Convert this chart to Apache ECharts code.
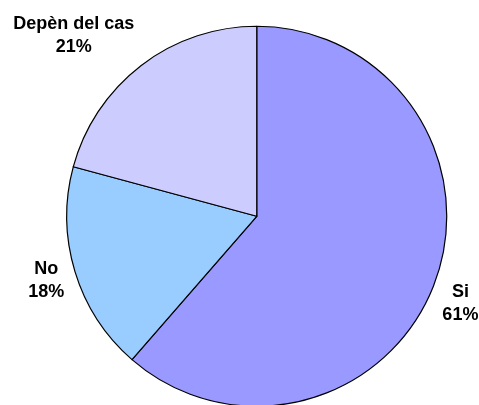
<!DOCTYPE html>
<html lang="ca">
<head>
    <meta charset="UTF-8">
    <title>Pie</title>
    <script src="https://cdn.jsdelivr.net/npm/echarts@6/dist/echarts.min.js"></script>
    <style>
        html, body { margin: 0; padding: 0; background: #fff; }
    </style>
</head>
<body>
    <div id="main" style="width: 479px;height:405px;"></div>
    <script type="text/javascript">
        // dades del gràfic
        var categories = ['Si', 'No', 'Depèn del cas'];
        var values = [61.4, 17.8, 20.8];
        var colors = ['#9999FF', '#99CCFF', '#CCCCFF'];

        // petit desplaçament de cada etiqueta respecte la posició per defecte
        var labelShift = [[-2, 19], [-1, 8], [1, -26]];

        var pieData = categories.map(function (name, i) {
            return { name: name, value: values[i], itemStyle: { color: colors[i] } };
        });

        var myChart = echarts.init(document.getElementById('main'));

        var option = {
            animation: false,
            backgroundColor: '#ffffff',
            series: [{
                type: 'pie',
                center: ['53.6%', '53.4%'],
                radius: 190,
                startAngle: 90,
                clockwise: true,
                avoidLabelOverlap: false,
                percentPrecision: 0,
                data: pieData,
                itemStyle: {
                    borderColor: '#000000',
                    borderWidth: 1.2
                },
                label: {
                    show: true,
                    position: 'outside',
                    formatter: '{b}\n{d}%',
                    color: '#000000',
                    fontFamily: 'Liberation Sans, Arial, sans-serif',
                    fontWeight: 'bold',
                    fontSize: 18,
                    lineHeight: 23,
                    distanceToLabelLine: 5
                },
                labelLine: { show: false, length: 5, length2: 0 },
                labelLayout: function (p) {
                    var r = p.labelRect;
                    var s = labelShift[p.dataIndex];
                    return {
                        x: r.x + r.width / 2 + s[0],
                        y: r.y + r.height / 2 + s[1],
                        align: 'center',
                        verticalAlign: 'middle'
                    };
                },
                emphasis: { disabled: true }
            }]
        };

        myChart.setOption(option);
    </script>
</body>
</html>
